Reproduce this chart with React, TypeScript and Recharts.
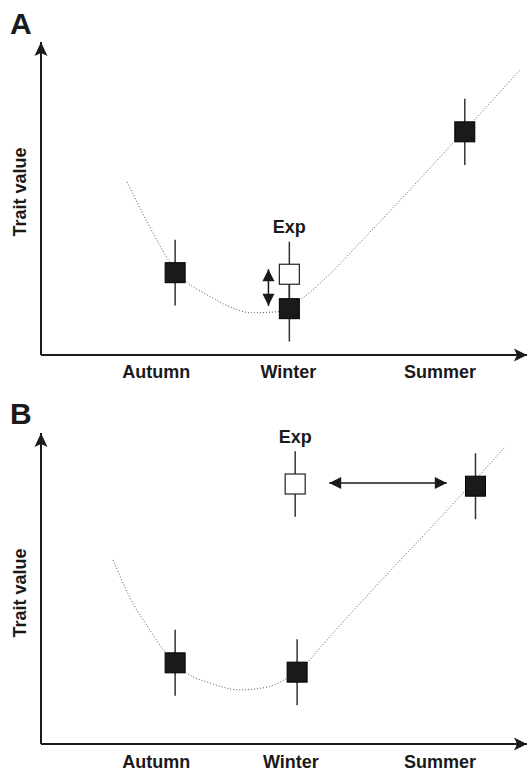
import React from 'react';
import {
  ComposedChart, Line, Scatter, ErrorBar, XAxis, YAxis, ReferenceLine, ReferenceDot,
} from 'recharts';

const FONT = '"Liberation Sans", Arial, Helvetica, sans-serif';
const INK = '#1a1a1a';

// season labels along the x axis
const seasons = ['Autumn', 'Winter', 'Summer'];
const seasonTicksA = [23.7, 50.9, 82.1];
const seasonTicksB = [23.7, 51.4, 82.1];

// Panel A: field measurements (filled) and experiment (open)
const filledA = [
  { x: 27.6, y: 26.3, err: 10.5 },
  { x: 51.1, y: 14.8, err: 10.5 },
  { x: 87.2, y: 71.3, err: 10.6 },
];
const expA = [{ x: 51.1, y: 25.8, err: 10.4 }];
const curveA = [
  { x: 17.7, y: 55.3 },
  { x: 22.4, y: 40.9 },
  { x: 26.5, y: 29.7 },
  { x: 30.0, y: 23.3 },
  { x: 34.2, y: 19.2 },
  { x: 39.5, y: 15.0 },
  { x: 43.0, y: 13.5 },
  { x: 48.6, y: 13.8 },
  { x: 53.3, y: 17.6 },
  { x: 58.0, y: 23.7 },
  { x: 65.0, y: 34.9 },
  { x: 85.2, y: 68.4 },
  { x: 98.6, y: 91.1 },
];
// vertical double arrow between exp and winter
const arrowA = [{ x: 46.8, y: 27.4 }, { x: 46.8, y: 15.7 }];

// Panel B
const filledB = [
  { x: 27.6, y: 26.1, err: 10.6 },
  { x: 52.7, y: 23.1, err: 10.6 },
  { x: 89.4, y: 82.9, err: 10.6 },
];
const expB = [{ x: 52.3, y: 83.6, err: 10.5 }];
const curveB = [
  { x: 14.8, y: 59.2 },
  { x: 18.9, y: 45.3 },
  { x: 22.4, y: 36.7 },
  { x: 25.5, y: 29.6 },
  { x: 30.0, y: 22.8 },
  { x: 34.8, y: 19.6 },
  { x: 40.9, y: 17.4 },
  { x: 46.5, y: 18.3 },
  { x: 50.6, y: 21.2 },
  { x: 54.9, y: 26.4 },
  { x: 57.0, y: 30.2 },
  { x: 71.8, y: 55.6 },
  { x: 82.1, y: 72.7 },
  { x: 95.5, y: 95.5 },
];
// horizontal double arrow between exp and summer
const arrowB = [{ x: 59.3, y: 83.9 }, { x: 83.5, y: 83.9 }];

const rot: Record<string, number> = { up: 0, right: 90, down: 180, left: 270 };

const Head = ({ cx, cy, dir, len, half, notch }: any) => (
  <polygon
    points={`${cx},${cy} ${cx - half},${cy + len} ${cx},${cy + len - notch} ${cx + half},${cy + len}`}
    fill={INK}
    transform={`rotate(${rot[dir]} ${cx} ${cy})`}
  />
);

const FilledSquare = (p: any) => (
  <rect x={p.cx - 10} y={p.cy - 10} width={20} height={20} fill={INK} stroke="#000" strokeWidth={1} />
);
const OpenSquare = (p: any) => (
  <rect x={p.cx - 10} y={p.cy - 10} width={20} height={20} fill="#fff" stroke="#222" strokeWidth={1.2} />
);

const textStyle = { fontFamily: FONT, fontWeight: 700, fontSize: 18, fill: INK };

type PanelProps = {
  letter: string;
  letterTop: number;
  height: number;
  top: number;
  bottom: number;
  tickMargin: number;
  titleY: number;
  ticks: number[];
  filled: any[];
  exp: any[];
  curve: any[];
  arrow: any[];
  vertical: boolean;
};

const Panel = ({
  letter, letterTop, height, top, bottom, tickMargin, titleY, ticks, filled, exp, curve, arrow, vertical,
}: PanelProps) => (
  <div style={{ position: 'relative', width: 528, height }}>
    <div
      style={{
        position: 'absolute', left: 10, top: letterTop, fontFamily: FONT, fontWeight: 700,
        fontSize: 30, lineHeight: '30px', color: INK,
      }}
    >
      {letter}
    </div>
    <ComposedChart width={528} height={height} margin={{ top, right: 1, bottom: 0, left: 0 }}>
      <XAxis
        type="number"
        dataKey="x"
        domain={[0, 100]}
        ticks={ticks}
        interval={0}
        tickFormatter={(_v: number, i: number) => seasons[i]}
        height={bottom}
        tickSize={0}
        tickMargin={tickMargin}
        axisLine={{ stroke: INK, strokeWidth: 2 }}
        tickLine={false}
        tick={textStyle}
      />
      <YAxis
        type="number"
        dataKey="y"
        domain={[0, 100]}
        width={41}
        tick={false}
        tickLine={false}
        axisLine={{ stroke: INK, strokeWidth: 2 }}
        label={() => (
          <text x={26} y={titleY} transform={`rotate(-90 26 ${titleY})`} textAnchor="middle" style={textStyle}>
            Trait value
          </text>
        )}
      />
      <Line
        data={curve}
        dataKey="y"
        type="monotone"
        stroke="#555"
        strokeWidth={1}
        strokeDasharray="1 2"
        dot={false}
        activeDot={false}
        isAnimationActive={false}
      />
      <ReferenceLine segment={arrow} stroke={INK} strokeWidth={1.5} />
      <ReferenceDot
        x={arrow[0].x}
        y={arrow[0].y}
        r={0}
        shape={(p: any) => <Head cx={p.cx} cy={p.cy} dir={vertical ? 'up' : 'left'} len={12} half={6} notch={0} />}
      />
      <ReferenceDot
        x={arrow[1].x}
        y={arrow[1].y}
        r={0}
        shape={(p: any) => <Head cx={p.cx} cy={p.cy} dir={vertical ? 'down' : 'right'} len={12} half={6} notch={0} />}
      />
      <Scatter data={exp} dataKey="y" shape={OpenSquare} isAnimationActive={false}>
        <ErrorBar dataKey="err" direction="y" width={0} stroke="#333" strokeWidth={1.5} isAnimationActive={false} />
      </Scatter>
      <Scatter data={filled} dataKey="y" shape={FilledSquare} isAnimationActive={false}>
        <ErrorBar dataKey="err" direction="y" width={0} stroke="#333" strokeWidth={1.5} isAnimationActive={false} />
      </Scatter>
      <ReferenceDot
        x={exp[0].x}
        y={exp[0].y}
        r={0}
        shape={(p: any) => (
          <text x={p.cx} y={p.cy - 41} textAnchor="middle" style={textStyle}>
            Exp
          </text>
        )}
      />
      <ReferenceDot
        x={0}
        y={100}
        r={0}
        shape={(p: any) => <Head cx={p.cx} cy={p.cy} dir="up" len={14} half={6.5} notch={3} />}
      />
      <ReferenceDot
        x={100}
        y={0}
        r={0}
        shape={(p: any) => <Head cx={p.cx} cy={p.cy} dir="right" len={13} half={6.5} notch={3} />}
      />
    </ComposedChart>
  </div>
);

export default function App() {
  return (
    <div style={{ position: 'absolute', left: 0, top: 0, width: 528, height: 772, background: '#fff' }}>
      <Panel
        letter="A"
        letterTop={9}
        height={388}
        top={42}
        bottom={33}
        tickMargin={10}
        titleY={192}
        ticks={seasonTicksA}
        filled={filledA}
        exp={expA}
        curve={curveA}
        arrow={arrowA}
        vertical
      />
      <Panel
        letter="B"
        letterTop={11}
        height={384}
        top={45}
        bottom={28}
        tickMargin={11}
        titleY={205}
        ticks={seasonTicksB}
        filled={filledB}
        exp={expB}
        curve={curveB}
        arrow={arrowB}
        vertical={false}
      />
    </div>
  );
}
